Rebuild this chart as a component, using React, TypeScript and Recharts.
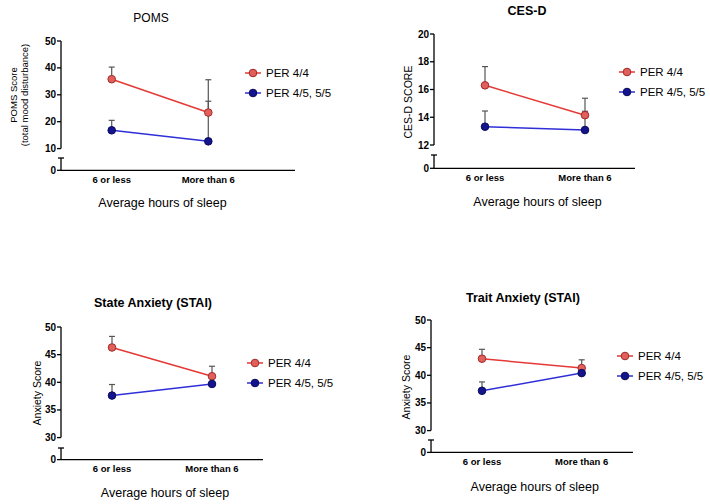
import { LineChart, Line, XAxis, YAxis, ErrorBar, Legend } from 'recharts'

// ─── Data ────────────────────────────────────────────────────────────────────
const categories = ['6 or less', 'More than 6']
const seriesNames = ['PER 4/4', 'PER 4/5, 5/5']

// POMS (total mood disturbance)
const pomsPer44 = [35.8, 23.4]
const pomsPer44Sem = [4.5, 12.2]
const pomsPer45 = [16.8, 12.7]
const pomsPer45Sem = [3.7, 14.9]
const pomsTicks = [10, 20, 30, 40, 50]

// CES-D
const cesdPer44 = [16.3, 14.15]
const cesdPer44Sem = [1.35, 1.22]
const cesdPer45 = [13.32, 13.08]
const cesdPer45Sem = [1.13, 1.35]
const cesdTicks = [12, 14, 16, 18, 20]

// State anxiety (STAI)
const statePer44 = [46.3, 41.1]
const statePer44Sem = [2.0, 1.8]
const statePer45 = [37.6, 39.7]
const statePer45Sem = [2.0, 1.5]

// Trait anxiety (STAI)
const traitPer44 = [43.0, 41.3]
const traitPer44Sem = [1.7, 1.5]
const traitPer45 = [37.2, 40.4]
const traitPer45Sem = [1.6, 1.0]
const anxietyTicks = [30, 35, 40, 45, 50]

// lower (broken-off) axis segment: only the 0 tick is labelled
const breakTicks = [0, 1]

const xTitle = 'Average hours of sleep'

function rows(a: number[], aSem: number[], b: number[], bSem: number[]) {
  return categories.map((name, i) => ({
    name,
    a: a[i],
    aErr: [0, aSem[i]],
    b: b[i],
    bErr: [0, bSem[i]],
  }))
}

// ─── Styles ──────────────────────────────────────────────────────────────────
const FONT = '"Liberation Sans", Arial, sans-serif'
const SERIES = [
  { key: 'a', name: seriesNames[0], line: '#e53935', fill: '#e2605b', edge: '#9e2a27' },
  { key: 'b', name: seriesNames[1], line: '#2f2fd8', fill: '#14148c', edge: '#0a0a5a' },
]
const ERR = '#555'
const AXIS = { stroke: '#000', strokeWidth: 1.3 }
const TICK = { fill: '#000', fontSize: 10, fontWeight: 700 }
const CAT_TICK = { fill: '#000', fontSize: 9.5, fontWeight: 700 }

const PANELS = [
  {
    id: 'poms', title: 'POMS', titleBold: false, titleX: 151, titleY: 18,
    yLabel: ['POMS Score', '(total mood disturbance)'], yLabelX: 18.5, yLabelY: 95, yLabelSize: 9.5,
    data: rows(pomsPer44, pomsPer44Sem, pomsPer45, pomsPer45Sem), ticks: pomsTicks,
    axisX: 61, xEnd: 295, p1: 111.7, p2: 208.3, yTop: 40.7, yBot: 148.3, brkTop: 157.7, y0: 170,
    legendX: 245, legendY: 73.3, xTitleX: 162.5, xTitleY: 202.7,
  },
  {
    id: 'cesd', title: 'CES-D', titleBold: true, titleX: 527, titleY: 11,
    yLabel: ['CES-D SCORE'], yLabelX: 408, yLabelY: 101.7, yLabelSize: 10.5,
    data: rows(cesdPer44, cesdPer44Sem, cesdPer45, cesdPer45Sem), ticks: cesdTicks,
    axisX: 434, xEnd: 635, p1: 485, p2: 585, yTop: 34, yBot: 145, brkTop: 155, y0: 168.3,
    legendX: 619, legendY: 71.7, xTitleX: 537.5, xTitleY: 202.3,
  },
  {
    id: 'state', title: 'State Anxiety (STAI)', titleBold: true, titleX: 153, titleY: 303,
    yLabel: ['Anxiety Score'], yLabelX: 37, yLabelY: 393, yLabelSize: 10.5,
    data: rows(statePer44, statePer44Sem, statePer45, statePer45Sem), ticks: anxietyTicks,
    axisX: 61, xEnd: 263, p1: 112, p2: 212, yTop: 326.7, yBot: 437.3, brkTop: 447.7, y0: 459.3,
    legendX: 247, legendY: 362.7, xTitleX: 165, xTitleY: 493.3,
  },
  {
    id: 'trait', title: 'Trait Anxiety (STAI)', titleBold: true, titleX: 523, titleY: 298,
    yLabel: ['Anxiety Score'], yLabelX: 406, yLabelY: 386.7, yLabelSize: 10.5,
    data: rows(traitPer44, traitPer44Sem, traitPer45, traitPer45Sem), ticks: anxietyTicks,
    axisX: 431, xEnd: 633, p1: 482, p2: 581.7, yTop: 319.7, yBot: 430.3, brkTop: 440.3, y0: 452.7,
    legendX: 617, legendY: 355.7, xTitleX: 534.7, xTitleY: 486.7,
  },
]

// ─── Legend ──────────────────────────────────────────────────────────────────
function LegendBox({ payload }: any) {
  const items = (payload ?? []).filter((e: any) => e.type !== 'none' && seriesNames.includes(e.value))
  if (!items.length) return null
  return (
    <div style={{ fontFamily: FONT, fontSize: 11.5, color: '#000' }}>
      {items.map((entry: any) => {
        const s = SERIES.find(x => x.name === entry.value) ?? SERIES[0]
        return (
          <div key={entry.value} style={{ display: 'flex', alignItems: 'center', height: 20, whiteSpace: 'nowrap' }}>
            <svg width={16} height={10} style={{ display: 'block' }}>
              <line x1={0} y1={5} x2={16} y2={5} stroke={s.line} strokeWidth={1.5} />
              <circle cx={8} cy={5} r={3.8} fill={s.fill} stroke={s.edge} strokeWidth={1} />
            </svg>
            <span style={{ marginLeft: 5 }}>{entry.value}</span>
          </div>
        )
      })}
    </div>
  )
}

// ─── Broken-axis tick: "0" gets a normal tick, the top of the stub gets a cap ─
function BreakTick({ x, y, payload }: any) {
  const axisX = x + 5 // tickSize 4 + tickMargin 1
  if (payload.value !== 0) {
    return <line x1={axisX - 3} y1={y} x2={axisX + 3} y2={y} stroke="#000" strokeWidth={1.3} />
  }
  return (
    <g>
      <line x1={axisX - 4} y1={y} x2={axisX} y2={y} stroke="#000" strokeWidth={1.3} />
      <text x={x} y={y} dy="0.355em" textAnchor="end" fill="#000" fontSize={10} fontWeight={700}>0</text>
    </g>
  )
}

// ─── Panel ───────────────────────────────────────────────────────────────────
function Panel({ p }: { p: typeof PANELS[number] }) {
  const YW = 40
  const plotW = p.xEnd - p.axisX
  const pad = { left: p.p1 - p.axisX, right: p.xEnd - p.p2 }
  const left = p.axisX - YW

  const upTop = p.yTop - 8
  const upR = 100
  const upH = p.yBot - p.yTop + 14

  const lowTop = p.brkTop - 5
  const lowH = 5 + (p.y0 - p.brkTop) + 22

  return (
    <>
      <div style={{
        position: 'absolute', left: p.titleX, top: p.titleY, transform: 'translate(-50%, -50%)',
        fontSize: p.titleBold ? 12.5 : 12, fontWeight: p.titleBold ? 700 : 400, whiteSpace: 'nowrap',
      }}>
        {p.title}
      </div>

      <div style={{
        position: 'absolute', left: p.yLabelX, top: p.yLabelY,
        transform: 'translate(-50%, -50%) rotate(-90deg)', fontSize: p.yLabelSize,
        lineHeight: '11px', textAlign: 'center', whiteSpace: 'nowrap',
      }}>
        {p.yLabel.map(l => <div key={l}>{l}</div>)}
      </div>

      {/* upper axis segment with the data */}
      <div style={{ position: 'absolute', left, top: upTop }}>
        <LineChart width={YW + plotW + upR} height={upH} data={p.data}
          margin={{ top: 8, right: upR, bottom: 6, left: 0 }}>
          <XAxis dataKey="name" hide padding={pad} />
          <YAxis
            type="number"
            domain={[p.ticks[0], p.ticks[p.ticks.length - 1]]}
            ticks={p.ticks}
            interval={0}
            allowDataOverflow
            width={YW}
            tick={TICK}
            tickSize={4}
            tickMargin={1}
            axisLine={AXIS}
            tickLine={AXIS}
          />
          {SERIES.map(s => (
            <Line key={s.key + 'err'} dataKey={s.key} stroke="none" dot={false} activeDot={false}
              legendType="none" isAnimationActive={false}>
              <ErrorBar dataKey={s.key + 'Err'} direction="y" width={3} stroke={ERR} strokeWidth={1.2} />
            </Line>
          ))}
          {SERIES.map(s => (
            <Line key={s.key} dataKey={s.key} name={s.name} stroke={s.line} strokeWidth={1.5}
              dot={{ r: 3.8, fill: s.fill, stroke: s.edge, strokeWidth: 1 }}
              activeDot={false} isAnimationActive={false} />
          ))}
          <Legend
            layout="vertical" align="center" verticalAlign="middle"
            content={<LegendBox />}
            wrapperStyle={{ left: p.legendX - left, top: p.legendY - 10 - upTop, width: 120 }}
          />
        </LineChart>
      </div>

      {/* lower axis segment (0) with the category axis */}
      <div style={{ position: 'absolute', left, top: lowTop }}>
        <LineChart width={YW + plotW + 5} height={lowH} data={p.data}
          margin={{ top: 5, right: 5, bottom: 0, left: 0 }}>
          <XAxis
            dataKey="name"
            padding={pad}
            height={22}
            tick={CAT_TICK}
            tickLine={false}
            tickSize={4}
            tickMargin={2}
            axisLine={AXIS}
            interval={0}
          />
          <YAxis
            type="number"
            domain={[0, 1]}
            ticks={breakTicks}
            interval={0}
            allowDataOverflow
            width={YW}
            tick={<BreakTick />}
            tickLine={false}
            tickSize={4}
            tickMargin={1}
            axisLine={AXIS}
          />
        </LineChart>
      </div>

      <div style={{
        position: 'absolute', left: p.xTitleX, top: p.xTitleY, transform: 'translate(-50%, -50%)',
        fontSize: 12.5, whiteSpace: 'nowrap',
      }}>
        {xTitle}
      </div>
    </>
  )
}

export default function App() {
  return (
    <div style={{
      position: 'absolute', left: 0, top: 0, width: 710, height: 504,
      background: '#fff', fontFamily: FONT, color: '#000', overflow: 'hidden',
    }}>
      {PANELS.map(p => <Panel key={p.id} p={p} />)}
    </div>
  )
}
